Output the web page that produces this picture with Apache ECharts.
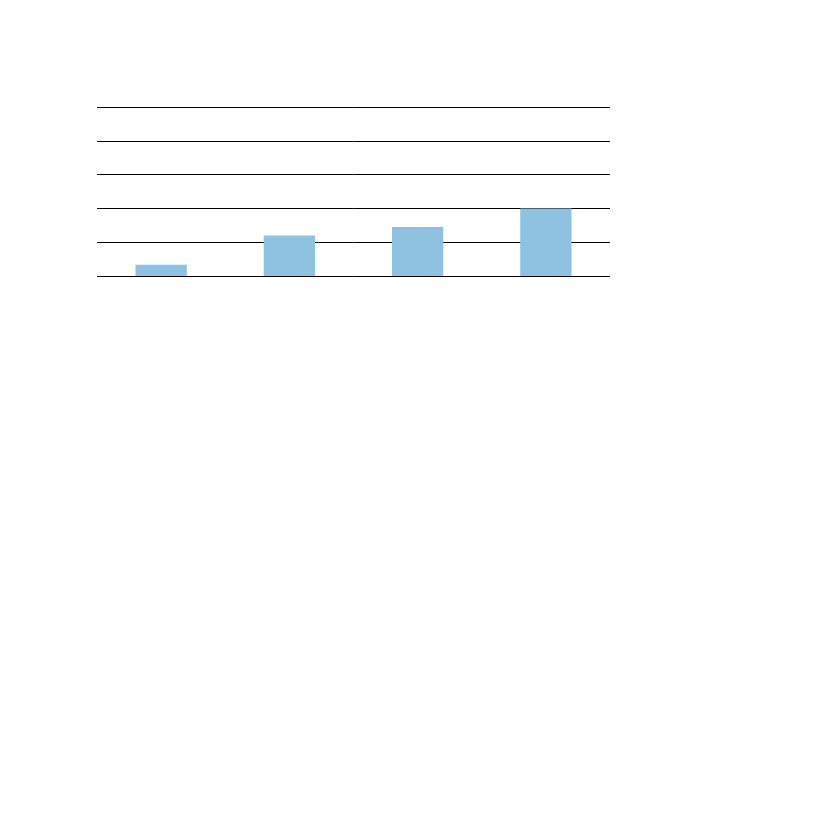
<!DOCTYPE html>
<html>
<head>
<meta charset="utf-8">
<script src="https://cdn.jsdelivr.net/npm/echarts@6/dist/echarts.min.js"></script>
<style>
html,body{margin:0;padding:0;background:#fff;}
#c{width:827px;height:827px;}
</style>
</head>
<body>
<div id="c"></div>
<script>
const categories = ['A', 'B', 'C', 'D'];
const values = [0.33, 1.2, 1.45, 2.0];
const yTicks = [0, 1, 2, 3, 4, 5];

const chart = echarts.init(document.getElementById('c'), null, {renderer: 'canvas'});
chart.setOption({
  animation: false,
  backgroundColor: '#ffffff',
  grid: {left: 97, right: 217, top: 107, bottom: 551, containLabel: false},
  xAxis: {
    type: 'category',
    data: categories,
    axisLine: {show: false},
    axisTick: {show: false},
    axisLabel: {show: false},
    splitLine: {show: false}
  },
  yAxis: {
    type: 'value',
    min: yTicks[0],
    max: yTicks[yTicks.length - 1],
    interval: 1,
    axisLine: {show: false},
    axisTick: {show: false},
    axisLabel: {show: false},
    splitLine: {show: true, lineStyle: {color: '#000000', width: 1}}
  },
  series: [{
    type: 'bar',
    data: values,
    barWidth: '40%',
    itemStyle: {color: '#8dc3e1'}
  }]
});
</script>
</body>
</html>
